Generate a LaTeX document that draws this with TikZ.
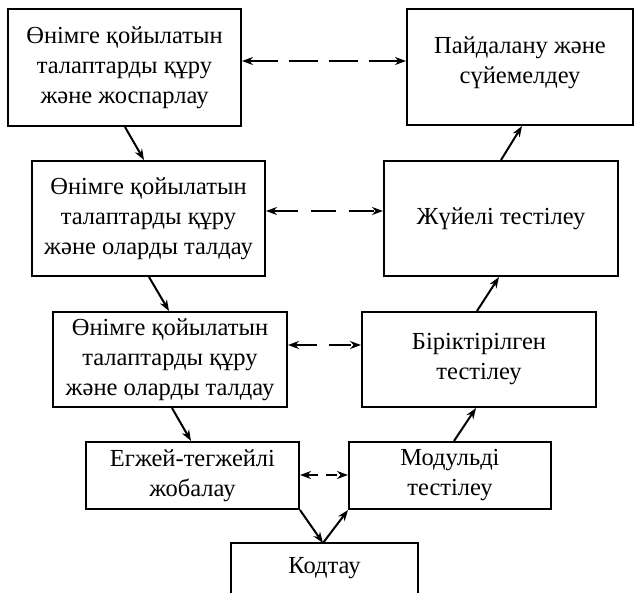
\documentclass[tikz,border=0pt]{standalone}
\usepackage{fontspec}
\setmainfont{Liberation Serif}
\usetikzlibrary{arrows.meta}

\tikzset{
  stage/.style={draw, line width=2pt, rectangle, inner sep=0pt, align=center,
    font=\fontsize{24.5}{30}\selectfont},
  flow/.style={line width=2pt, -{Stealth[length=11pt,width=8pt]}},
  link/.style={line width=2pt, dash pattern=on #1,
    {Stealth[length=11pt,width=8pt]}-{Stealth[length=11pt,width=8pt]}}
}

\begin{document}
\begin{tikzpicture}[x=1pt, y=-1pt]
\useasboundingbox (0,0) rectangle (636,593);

% left branch: requirements and design
\node[stage, minimum width=233pt, minimum height=117pt] (req) at (124.5,67.5)
  {Өнімге қойылатын\\талаптарды құру\\және жоспарлау};
\node[stage, minimum width=233pt, minimum height=115pt] (anl) at (148.5,218.5)
  {Өнімге қойылатын\\талаптарды құру\\және оларды талдау};
\node[stage, minimum width=234pt, minimum height=95pt] (arch) at (170,359.5)
  {Өнімге қойылатын\\талаптарды құру\\және оларды талдау};
\node[stage, minimum width=213pt, minimum height=67pt] (det) at (192.5,475.5)
  {Егжей-тегжейлі\\жобалау};

% right branch: testing and maintenance
\node[stage, minimum width=226pt, minimum height=116pt] (ops) at (520,67)
  {Пайдалану және\\сүйемелдеу\\[-16pt]};
\node[stage, minimum width=234pt, minimum height=115pt] (sys) at (501,218.5)
  {Жүйелі тестілеу};
\node[stage, minimum width=234pt, minimum height=95pt] (int) at (479,359.5)
  {Біріктірілген\\тестілеу};
\node[stage, minimum width=202pt, minimum height=67pt] (unit) at (450,475.5)
  {Модульді\\тестілеу};

% coding box at the bottom, open downwards
\node[stage, draw=none, minimum width=185pt, minimum height=49pt] (code) at (324.5,568.5)
  {Кодтау};
\draw[line width=2pt] (code.south west) -- (code.north west)
  -- (code.north east) -- (code.south east);
\coordinate (apex) at ([xshift=92pt]code.north west);

% descending arrows
\draw[flow] ([xshift=118pt]req.south west) -- ([xshift=113pt]anl.north west);
\draw[flow] ([xshift=118pt]anl.south west) -- ([xshift=117pt]arch.north west);
\draw[flow] ([xshift=120pt]arch.south west) -- ([xshift=106pt]det.north west);
\draw[flow] (det.south east) -- (apex);

% ascending arrows
\draw[flow] (apex) -- (unit.south west);
\draw[flow] ([xshift=106pt]unit.north west) -- ([xshift=115pt]int.south west);
\draw[flow] ([xshift=116pt]int.north west) -- ([xshift=116pt]sys.south west);
\draw[flow] ([xshift=118pt]sys.north west) -- ([xshift=116pt]ops.south west);

% verification links between the two branches
\draw[link={29pt off 11pt}] (req.east |- 0,61) -- (ops.west |- 0,61);
\draw[link={25pt off 13pt}] (anl.east |- 0,211) -- (sys.west |- 0,211);
\draw[link={22pt off 12pt}] (arch.east |- 0,345) -- (int.west |- 0,345);
\draw[link={11pt off 8pt}] (det.east |- 0,475) -- (unit.west |- 0,475);
\end{tikzpicture}
\end{document}
